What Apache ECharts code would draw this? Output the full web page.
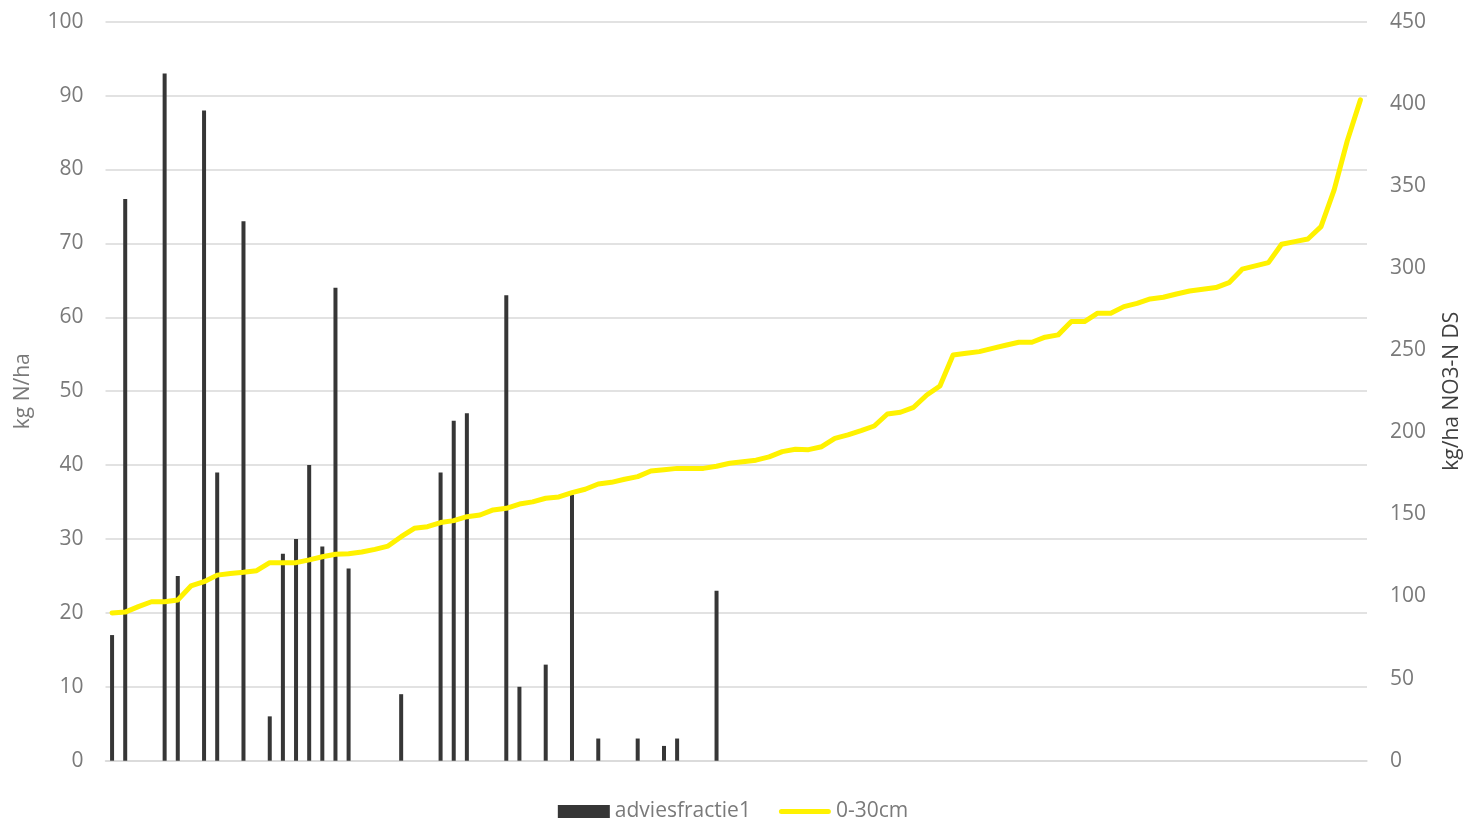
<!DOCTYPE html>
<html>
<head>
<meta charset="utf-8">
<script src="https://cdn.jsdelivr.net/npm/echarts@6/dist/echarts.min.js"></script>
<style>html,body{margin:0;padding:0;background:#fff}#c{width:1466px;height:822px}</style>
</head>
<body>
<div id="c"></div>
<script>
var categories = [];
for (var k = 1; k <= 96; k++) categories.push(String(k));

var adviesfractie1 = [
  17, 76, null, null, 93, 25, null, 88, 39, null,
  73, null, 6, 28, 30, 40, 29, 64, 26, null,
  null, null, 9, null, null, 39, 46, 47, null, null,
  63, 10, null, 13, null, 36, null, 3, null, null,
  3, null, 2, 3, null, null, 23, null, null, null,
  null, null, null, null, null, null, null, null, null, null,
  null, null, null, null, null, null, null, null, null, null,
  null, null, null, null, null, null, null, null, null, null,
  null, null, null, null, null, null, null, null, null, null,
  null, null, null, null, null, null
];

var cm0_30 = [
  90, 90.5, 93.8, 96.8, 96.8, 97.9, 106.4, 109, 113, 114,
  114.7, 115.7, 120.6, 120.6, 120.6, 122.3, 124.2, 125.7, 126, 127.1,
  128.7, 130.7, 136.4, 141.5, 142.5, 145, 146.2, 148.6, 149.6, 152.7,
  153.7, 156.3, 157.6, 159.8, 160.6, 163.2, 165.3, 168.5, 169.5, 171.4,
  173, 176.4, 177.2, 178, 178, 178, 179.3, 181.1, 182, 183,
  185, 188.2, 189.6, 189.4, 191.2, 196.3, 198.4, 201, 203.8, 211.1,
  212.2, 215.2, 222.7, 228.2, 247.1, 248.1, 249.1, 251.1, 253, 254.8,
  254.8, 257.9, 259.3, 267.4, 267.4, 272.5, 272.5, 276.5, 278.5, 281.2,
  282.2, 284.2, 286, 287.1, 288.1, 291.1, 299.3, 301.3, 303.3, 314.5,
  316.1, 317.7, 325.2, 347.6, 377.5, 402.4
];

var leftTicks = { min: 0, max: 100, interval: 10 };
var rightTicks = { min: 0, max: 450, interval: 50 };

var chart = echarts.init(document.getElementById('c'));
var font = '"Open Sans", "Noto Sans", sans-serif';
var lineIcon = 'path://M0,0 L0.01,0 L0,0.01 Z M2.5,4 L49.5,4 A2.5,2.5 0 0 1 49.5,9 L2.5,9 A2.5,2.5 0 0 1 2.5,4 Z M0,13 L0.01,13 L0,12.99 Z';
chart.setOption({
  animation: false,
  textStyle: { fontFamily: font },
  grid: { left: 105.5, right: 99, top: 21.7, bottom: 61.3, containLabel: false, outerBoundsMode: 'none' },
  legend: {
    top: 796,
    left: 'center',
    itemGap: 28,
    itemWidth: 52,
    itemHeight: 13,
    textStyle: { color: '#7a7a7a', fontSize: 21, fontFamily: font },
    data: [
      { name: 'adviesfractie1', icon: 'rect' },
      { name: '0-30cm', icon: lineIcon, itemStyle: { color: '#FFF200' } }
    ]
  },
  xAxis: {
    type: 'category',
    data: categories,
    boundaryGap: true,
    axisLine: { show: true, lineStyle: { color: '#d9d9d9', width: 1.5 } },
    axisTick: { show: false },
    axisLabel: { show: false },
    splitLine: { show: false }
  },
  yAxis: [
    {
      type: 'value',
      min: leftTicks.min, max: leftTicks.max, interval: leftTicks.interval,
      name: 'kg N/ha',
      nameLocation: 'middle',
      nameRotate: 90,
      nameGap: 72,
      nameTextStyle: { color: '#7a7a7a', fontSize: 21, fontFamily: font },
      axisLine: { show: false },
      axisTick: { show: false },
      axisLabel: { color: '#7a7a7a', fontSize: 21, margin: 22, fontFamily: font },
      splitLine: { show: true, lineStyle: { color: '#d9d9d9', width: 1.5 } }
    },
    {
      type: 'value',
      min: rightTicks.min, max: rightTicks.max, interval: rightTicks.interval,
      name: 'kg/ha NO3-N DS',
      nameLocation: 'middle',
      nameRotate: 90,
      nameGap: 75,
      nameTextStyle: { color: '#404040', fontSize: 21, fontFamily: font },
      axisLine: { show: false },
      axisTick: { show: false },
      axisLabel: { color: '#7a7a7a', fontSize: 21, margin: 23, fontFamily: font },
      splitLine: { show: false }
    }
  ],
  series: [
    {
      name: 'adviesfractie1',
      type: 'bar',
      yAxisIndex: 0,
      data: adviesfractie1,
      barWidth: 4,
      itemStyle: { color: '#363636' }
    },
    {
      name: '0-30cm',
      type: 'line',
      yAxisIndex: 1,
      data: cm0_30,
      symbol: 'none',
      showSymbol: false,
      lineStyle: { color: '#FFF200', width: 5, cap: 'round', join: 'round' },
      itemStyle: { color: '#FFF200' }
    }
  ]
});
</script>
</body>
</html>
